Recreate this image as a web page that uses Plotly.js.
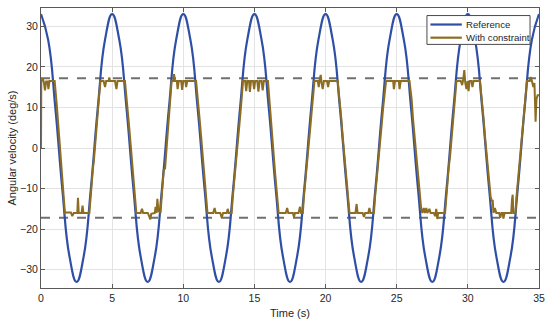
<!DOCTYPE html>
<html>
<head>
<meta charset="utf-8">
<script src="https://cdn.plot.ly/plotly-3.0.1.min.js"></script>
<style>html,body{margin:0;padding:0;background:#fff;}#chart{width:550px;height:326px;}</style>
</head>
<body>
<div id="chart"></div>
<script>
// Reference signal (deg/s), sampled every 0.5 s
const refTime = [0,0.5,1,1.5,2,2.5,3,3.5,4,4.5,5,5.5,6,6.5,7,7.5,8,8.5,9,9.5,10,10.5,11,11.5,12,12.5,13,13.5,14,14.5,15,15.5,16,16.5,17,17.5,18,18.5,19,19.5,20,20.5,21,21.5,22,22.5,23,23.5,24,24.5,25,25.5,26,26.5,27,27.5,28,28.5,29,29.5,30,30.5,31,31.5,32,32.5,33,33.5,34,34.5,35];
const refValues = [33,26.7,10.2,-10.2,-26.7,-33,-26.7,-10.2,10.2,26.7,
                   33,26.7,10.2,-10.2,-26.7,-33,-26.7,-10.2,10.2,26.7,
                   33,26.7,10.2,-10.2,-26.7,-33,-26.7,-10.2,10.2,26.7,
                   33,26.7,10.2,-10.2,-26.7,-33,-26.7,-10.2,10.2,26.7,
                   33,26.7,10.2,-10.2,-26.7,-33,-26.7,-10.2,10.2,26.7,
                   33,26.7,10.2,-10.2,-26.7,-33,-26.7,-10.2,10.2,26.7,
                   33,26.7,10.2,-10.2,-26.7,-33,-26.7,-10.2,10.2,26.7,
                   33];

// Constrained response (deg/s)
const conTime = [
 0,0.02,0.12,0.2,0.28,0.36,0.46,0.52,0.6,0.96,
 1.1,1.2,1.3,1.35,1.45,1.55,1.6,1.68,
 1.75,2.1,2.2,2.3,2.55,2.6,2.65,2.85,2.92,2.98,3.4,
 3.48,3.55,3.65,3.72,3.8,3.9,4.0,4.1,4.18,
 4.4,4.5,4.58,4.75,4.8,4.85,5.2,5.3,5.38,5.9,
 6.05,6.15,6.25,6.35,6.45,6.55,6.62,6.7,
 7.0,7.1,7.18,7.5,7.6,7.68,7.75,8.0,8.05,8.12,8.18,8.25,8.4,
 8.48,8.55,8.62,8.72,8.8,8.9,9.0,9.1,9.18,
 9.3,9.35,9.42,9.55,9.6,9.68,9.85,9.92,10.0,10.15,10.2,10.28,10.9,
 11.05,11.15,11.25,11.35,11.45,11.55,11.62,11.7,
 12.1,12.2,12.28,12.6,12.7,12.8,13.05,13.12,13.2,13.4,
 13.48,13.55,13.65,13.75,13.85,13.95,14.05,14.12,14.2,
 14.35,14.42,14.5,14.62,14.68,14.76,14.9,14.98,15.05,15.2,15.28,15.36,15.5,15.58,15.66,15.95,
 16.05,16.15,16.25,16.35,16.45,16.55,16.62,16.7,
 17.2,17.3,17.38,17.7,17.78,17.85,18.1,18.2,18.28,18.4,
 18.48,18.55,18.65,18.75,18.85,18.95,19.05,19.15,19.22,
 19.45,19.52,19.6,19.66,19.72,19.8,19.88,20.1,20.18,20.25,20.85,
 21.0,21.1,21.2,21.3,21.42,21.52,21.6,21.68,
 22.1,22.18,22.25,22.6,22.7,22.78,23.0,23.08,23.15,23.4,
 23.48,23.55,23.65,23.75,23.85,23.95,24.05,24.15,24.25,
 24.75,24.8,24.88,25.15,25.2,25.28,25.9,
 26.05,26.15,26.25,26.35,26.45,26.55,26.62,26.72,
 26.8,26.9,26.98,27.08,27.15,27.3,27.38,27.6,27.7,27.78,27.85,27.92,28.4,
 28.48,28.55,28.65,28.75,28.85,28.95,29.05,29.12,29.2,
 29.5,29.6,29.68,29.75,29.82,29.9,29.98,30.05,30.12,30.25,30.32,30.4,30.85,
 31.0,31.1,31.2,31.3,31.4,31.5,31.6,31.68,
 31.75,31.8,31.9,32.0,32.2,32.28,32.36,32.45,32.5,32.58,33.05,33.1,33.15,33.2,33.35,
 33.42,33.5,33.6,33.7,33.8,33.9,34.0,34.08,34.15,
 34.35,34.42,34.5,34.6,34.68,34.72,34.76,34.82,34.9,35];
const conValues = [
 0,16.3,17.2,16.2,14.2,16.4,16.4,14.5,16.5,16.5,
 11,6.5,2,-1,-6,-10.5,-12,-16,
 -15.9,-15.9,-16.8,-16,-16,-12.3,-16,-16,-14.2,-16,-16,
 -12,-9,-5,-3,1,5,9,13.5,16.5,
 16.5,15,16.5,16.5,17.4,16.5,16.5,14.5,16.5,16.5,
 11.5,7,3,-1,-6,-10,-13,-16,
 -16,-15,-16,-16,-16.8,-17.6,-16.2,-16,-14.5,-16,-12.5,-15.5,-16,
 -12,-9,-5.5,-5,-1,4,9,14,16.5,
 16.5,18.2,16.5,16.5,14.5,16.5,16.5,14.3,16.5,16.5,15,16.5,16.5,
 11.5,7,3,-1,-6,-10,-13,-16,
 -16,-14.8,-16,-16,-17.2,-16,-16,-15,-16,-16,
 -12,-9,-5,-2,2,6,10,13.5,16.5,
 16.5,14,16.5,16.5,13.8,16.5,16.5,14.5,16.5,16.5,13.9,16.5,16.5,14.2,16.5,16.5,
 12,7,3,-1,-6,-10,-13,-16,
 -16,-14.8,-16,-16,-17,-16,-16,-14.5,-16,-16,
 -12,-9,-5,-2,2,6,10,14,16.5,
 16.5,15,17.2,18,16,14.5,16.5,16.5,15,16.5,16.5,
 12,7.5,3,-1,-6,-10,-13,-16,
 -16,-13.8,-16,-16,-17,-16,-16,-14.8,-16,-16,
 -12,-9,-5,-2,2,6,10,14,16.5,
 16.5,14.5,16.5,16.5,14.5,16.5,16.5,
 12,7,3,-1,-6,-10,-13,-15,
 -16,-14.8,-16,-14.8,-16,-15,-16,-16,-16.8,-15,-17.5,-16,-16,
 -12,-9,-5,-2,2,6,10,14,16.5,
 16.5,15.5,17,19.2,16,14.5,16.5,14,16.5,16.5,15,16.5,16.5,
 12,7.5,3,-1,-5,-9,-12,-13,
 -13,-16,-14.8,-16,-16,-17.2,-16,-16,-17.4,-16,-16,-12.8,-11.5,-16,-16,
 -12,-9,-5,-2,2,6,10,14,16.5,
 16.5,17.5,16.5,15,16,11,6.5,12,13,13];

// Constraint limits
const limitTime = [0, 35];
const upperLimit = [17.2, 17.2];
const lowerLimit = [-17.2, -17.2];

// Series labels and colours
const seriesNames = ['Reference', 'With constraint'];
const seriesColors = ['#2f4fa6', '#8c6d22'];

const traces = [
  {x: limitTime, y: upperLimit, mode: 'lines', line: {color: '#707070', width: 2, dash: 'dash'}, showlegend: false, hoverinfo: 'skip'},
  {x: limitTime, y: lowerLimit, mode: 'lines', line: {color: '#707070', width: 2, dash: 'dash'}, showlegend: false, hoverinfo: 'skip'},
  {x: refTime, y: refValues, mode: 'lines', name: seriesNames[0], line: {color: seriesColors[0], width: 2.2, shape: 'spline', smoothing: 1.3}},
  {x: conTime, y: conValues, mode: 'lines', name: seriesNames[1], line: {color: seriesColors[1], width: 2}}
];

const FONT = 'Liberation Sans, Arial, Helvetica, sans-serif';
const axisCommon = {
  showline: true, mirror: 'ticks', linecolor: '#5a5a5a', linewidth: 1,
  ticks: 'inside', ticklen: 4, tickcolor: '#5a5a5a',
  showgrid: true, gridcolor: '#e3e3e3', gridwidth: 1,
  zeroline: false,
  tickfont: {family: FONT, size: 10.5, color: '#262626'}
};

// Compact legend box (paper coordinates)
const legX0 = 0.775, legX1 = 0.982, legY0 = 0.870, legY1 = 0.973;
const rowY = [0.941, 0.894];
const shapes = [
  {type: 'rect', xref: 'paper', yref: 'paper', x0: legX0, x1: legX1, y0: legY0, y1: legY1,
   line: {color: '#4a4a4a', width: 1}, fillcolor: '#ffffff', layer: 'above'}
];
const annotations = [];
seriesNames.forEach((name, i) => {
  shapes.push({type: 'line', xref: 'paper', yref: 'paper', x0: 0.782, x1: 0.845, y0: rowY[i], y1: rowY[i],
               line: {color: seriesColors[i], width: 2.2}, layer: 'above'});
  annotations.push({xref: 'paper', yref: 'paper', x: 0.849, y: rowY[i], xanchor: 'left', yanchor: 'middle',
                    text: name, showarrow: false, font: {family: FONT, size: 9.6, color: '#262626'}});
});

const layout = {
  width: 550, height: 326,
  margin: {l: 41, r: 11, t: 8, b: 38},
  paper_bgcolor: '#ffffff', plot_bgcolor: '#ffffff',
  font: {family: FONT, size: 11, color: '#262626'},
  xaxis: Object.assign({}, axisCommon, {
    range: [0, 35], tickvals: [0,5,10,15,20,25,30,35],
    title: {text: 'Time (s)', font: {family: FONT, size: 11, color: '#262626'}, standoff: 6}
  }),
  yaxis: Object.assign({}, axisCommon, {
    range: [-34.5, 34.5], tickvals: [-30,-20,-10,0,10,20,30],
    title: {text: 'Angular velocity (deg/s)', font: {family: FONT, size: 11, color: '#262626'}, standoff: 1}
  }),
  shapes: shapes,
  annotations: annotations,
  showlegend: false
};

Plotly.newPlot('chart', traces, layout, {staticPlot: true, displayModeBar: false});
</script>
</body>
</html>
